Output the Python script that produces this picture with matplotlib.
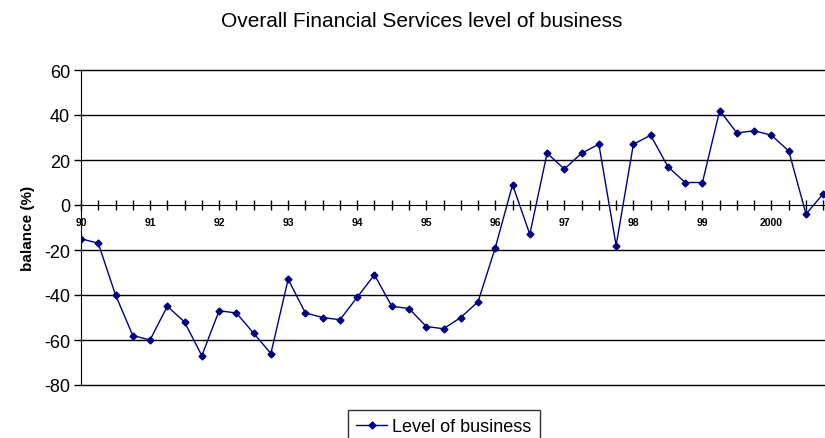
import matplotlib.pyplot as plt
import numpy as np

plt.rcParams['font.family'] = ['Liberation Sans', 'DejaVu Sans']
plt.rcParams['axes.unicode_minus'] = False

# quarterly balance, 1990 Q1 to 2000 Q4
year_labels = ["90", "91", "92", "93", "94", "95", "96", "97", "98", "99", "2000"]
balance = np.array([
    -15, -17, -40, -58,
    -60, -45, -52, -67,
    -47, -48, -57, -66,
    -33, -48, -50, -51,
    -41, -31, -45, -46,
    -54, -55, -50, -43,
    -19, 9, -13, 23,
    16, 23, 27, -18,
    27, 31, 17, 10,
    10, 42, 32, 33,
    31, 24, -4, 5,
])

x = np.arange(len(balance))

fig = plt.figure(figsize=(8.25, 4.39), dpi=100)
ax = fig.add_axes([81 / 825, 1 - 386 / 439, (825 - 81) / 825, (386 - 71) / 439])

# horizontal gridlines, zero handled by the category axis
for v in [60, 40, 20, -20, -40, -60, -80]:
    ax.axhline(v, color='black', lw=1.0, zorder=1, clip_on=False)

ax.plot(x, balance, color='#000080', lw=1.0, marker='D', markersize=3.5,
        label='Level of business', zorder=3)

ax.set_xlim(0, 43.1)
ax.set_ylim(-80, 60)
ax.set_yticks(np.arange(-80, 61, 20))
ax.tick_params(axis='y', labelsize=13, length=5, direction='out', width=1, pad=3)

# category axis through zero with quarterly cross ticks
ax.spines['bottom'].set_position(('data', 0))
for s in ['top', 'right']:
    ax.spines[s].set_visible(False)
ax.spines['left'].set_color('black')
ax.spines['bottom'].set_color('black')
ax.set_xticks(np.arange(0, 44))
ax.set_xticklabels([])
ax.tick_params(axis='x', direction='inout', length=7, width=1)
for i, lab in enumerate(year_labels):
    ax.text(i * 4, -5.4, lab, ha='center', va='top', fontsize=7.5,
            fontweight='bold')

ax.set_ylabel('balance (%)', fontsize=11, fontweight='bold', labelpad=6)
fig.text(0.511, 0.952, 'Overall Financial Services level of business',
         ha='center', va='center', fontsize=15)

leg = fig.legend(loc='upper center', bbox_to_anchor=(0.538, 1 - 411 / 439),
                 borderaxespad=0, fontsize=13, frameon=True, fancybox=False,
                 edgecolor='black', borderpad=0.45, handlelength=1.7,
                 handletextpad=0.3)
leg.get_frame().set_linewidth(1.0)

fig.savefig('out.png', dpi=100)
